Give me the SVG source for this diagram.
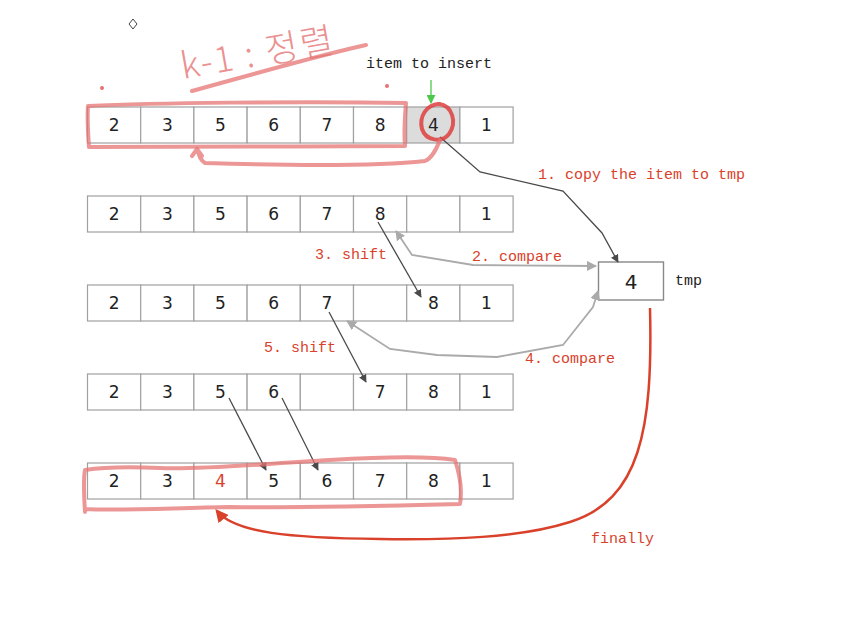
<svg xmlns="http://www.w3.org/2000/svg" width="844" height="618" viewBox="0 0 844 618">
<style>
.cell{fill:#fff;stroke:#a0a0a0;stroke-width:1.2}
.hl{fill:#dcdcdc}
.num{font-family:"DejaVu Sans","Liberation Sans",sans-serif;font-size:17px;fill:#222;text-anchor:middle}
.red{fill:#d9412b}
.mono{font-family:"Liberation Mono","DejaVu Sans Mono",monospace;font-size:15px}
.lbl{fill:#d9412b}
.dark{fill:none;stroke:#4a4a4a;stroke-width:1.3}
.light{fill:none;stroke:#aaaaaa;stroke-width:1.8}
.pen{fill:none;stroke:#e57373;stroke-opacity:0.75;stroke-width:4;stroke-linecap:round;stroke-linejoin:round}
</style>
<defs>
<marker id="ad" viewBox="0 0 10 10" refX="9" refY="5" markerWidth="8" markerHeight="8" orient="auto" markerUnits="userSpaceOnUse"><path d="M0,0 L10,5 L0,10 z" fill="#4a4a4a"/></marker>
<marker id="al" viewBox="0 0 10 10" refX="9" refY="5" markerWidth="10" markerHeight="10" orient="auto-start-reverse" markerUnits="userSpaceOnUse"><path d="M0,0 L10,5 L0,10 z" fill="#aaaaaa"/></marker>
<marker id="ar" viewBox="0 0 10 10" refX="8" refY="5" markerWidth="13" markerHeight="13" orient="auto" markerUnits="userSpaceOnUse"><path d="M0,0 L10,5 L0,10 z" fill="#d9412b"/></marker>
<marker id="ag" viewBox="0 0 10 10" refX="9" refY="5" markerWidth="9" markerHeight="9" orient="auto" markerUnits="userSpaceOnUse"><path d="M0,0 L10,5 L0,10 z" fill="#4cc94c"/></marker>
</defs>
<rect width="844" height="618" fill="#fff"/>

<g id="row1">
<rect class="cell" x="87.5" y="107" width="53.2" height="36"/><rect class="cell" x="140.7" y="107" width="53.2" height="36"/><rect class="cell" x="193.9" y="107" width="53.2" height="36"/><rect class="cell" x="247.1" y="107" width="53.2" height="36"/><rect class="cell" x="300.3" y="107" width="53.2" height="36"/><rect class="cell" x="353.5" y="107" width="53.2" height="36"/><rect class="cell hl" x="406.7" y="107" width="53.2" height="36"/><rect class="cell" x="459.9" y="107" width="53.2" height="36"/>
<text class="num" x="114.1" y="131">2</text><text class="num" x="167.3" y="131">3</text><text class="num" x="220.5" y="131">5</text><text class="num" x="273.7" y="131">6</text><text class="num" x="326.9" y="131">7</text><text class="num" x="380.1" y="131">8</text><text class="num" x="433.3" y="131">4</text><text class="num" x="486.5" y="131">1</text>
</g>
<g id="row2">
<rect class="cell" x="87.5" y="196" width="53.2" height="36"/><rect class="cell" x="140.7" y="196" width="53.2" height="36"/><rect class="cell" x="193.9" y="196" width="53.2" height="36"/><rect class="cell" x="247.1" y="196" width="53.2" height="36"/><rect class="cell" x="300.3" y="196" width="53.2" height="36"/><rect class="cell" x="353.5" y="196" width="53.2" height="36"/><rect class="cell" x="406.7" y="196" width="53.2" height="36"/><rect class="cell" x="459.9" y="196" width="53.2" height="36"/>
<text class="num" x="114.1" y="220">2</text><text class="num" x="167.3" y="220">3</text><text class="num" x="220.5" y="220">5</text><text class="num" x="273.7" y="220">6</text><text class="num" x="326.9" y="220">7</text><text class="num" x="380.1" y="220">8</text><text class="num" x="486.5" y="220">1</text>
</g>
<g id="row3">
<rect class="cell" x="87.5" y="285" width="53.2" height="36"/><rect class="cell" x="140.7" y="285" width="53.2" height="36"/><rect class="cell" x="193.9" y="285" width="53.2" height="36"/><rect class="cell" x="247.1" y="285" width="53.2" height="36"/><rect class="cell" x="300.3" y="285" width="53.2" height="36"/><rect class="cell" x="353.5" y="285" width="53.2" height="36"/><rect class="cell" x="406.7" y="285" width="53.2" height="36"/><rect class="cell" x="459.9" y="285" width="53.2" height="36"/>
<text class="num" x="114.1" y="309">2</text><text class="num" x="167.3" y="309">3</text><text class="num" x="220.5" y="309">5</text><text class="num" x="273.7" y="309">6</text><text class="num" x="326.9" y="309">7</text><text class="num" x="433.3" y="309">8</text><text class="num" x="486.5" y="309">1</text>
</g>
<g id="row4">
<rect class="cell" x="87.5" y="374" width="53.2" height="36"/><rect class="cell" x="140.7" y="374" width="53.2" height="36"/><rect class="cell" x="193.9" y="374" width="53.2" height="36"/><rect class="cell" x="247.1" y="374" width="53.2" height="36"/><rect class="cell" x="300.3" y="374" width="53.2" height="36"/><rect class="cell" x="353.5" y="374" width="53.2" height="36"/><rect class="cell" x="406.7" y="374" width="53.2" height="36"/><rect class="cell" x="459.9" y="374" width="53.2" height="36"/>
<text class="num" x="114.1" y="398">2</text><text class="num" x="167.3" y="398">3</text><text class="num" x="220.5" y="398">5</text><text class="num" x="273.7" y="398">6</text><text class="num" x="380.1" y="398">7</text><text class="num" x="433.3" y="398">8</text><text class="num" x="486.5" y="398">1</text>
</g>
<g id="row5">
<rect class="cell" x="87.5" y="463" width="53.2" height="36"/><rect class="cell" x="140.7" y="463" width="53.2" height="36"/><rect class="cell" x="193.9" y="463" width="53.2" height="36"/><rect class="cell" x="247.1" y="463" width="53.2" height="36"/><rect class="cell" x="300.3" y="463" width="53.2" height="36"/><rect class="cell" x="353.5" y="463" width="53.2" height="36"/><rect class="cell" x="406.7" y="463" width="53.2" height="36"/><rect class="cell" x="459.9" y="463" width="53.2" height="36"/>
<text class="num" x="114.1" y="487">2</text><text class="num" x="167.3" y="487">3</text><text class="num red" x="220.5" y="487">4</text><text class="num" x="273.7" y="487">5</text><text class="num" x="326.9" y="487">6</text><text class="num" x="380.1" y="487">7</text><text class="num" x="433.3" y="487">8</text><text class="num" x="486.5" y="487">1</text>
</g>
<g id="tmp">
<rect x="598.5" y="262" width="65" height="38" fill="#fff" stroke="#888" stroke-width="1.4"/>
<text class="num" x="631" y="289" style="font-size:20px">4</text>
<text class="mono" x="675" y="285" fill="#222">tmp</text>
</g>

<g id="labels" class="mono">
<text x="366" y="68" fill="#222">item to insert</text>
<text class="lbl" x="538" y="179">1. copy the item to tmp</text>
<text class="lbl" x="472" y="261">2. compare</text>
<text class="lbl" x="315" y="259">3. shift</text>
<text class="lbl" x="525" y="363">4. compare</text>
<text class="lbl" x="264" y="352">5. shift</text>
<text class="lbl" x="591" y="543">finally</text>
</g>

<g id="connectors">
<line x1="431" y1="80" x2="431" y2="103" stroke="#4cc94c" stroke-width="1.3" marker-end="url(#ag)"/>
<polyline class="dark" points="440,137 480,172 563,191 602,233 618,262" marker-end="url(#ad)"/>
<polyline class="light" points="396,231 412,255 473,265 596,266" marker-start="url(#al)" marker-end="url(#al)"/>
<line class="dark" x1="378" y1="222" x2="421" y2="297" marker-end="url(#ad)"/>
<polyline class="light" points="598,291 593,307 563,345 497,357 437,355 390,349 347,321" marker-start="url(#al)" marker-end="url(#al)"/>
<line class="dark" x1="329" y1="312" x2="366" y2="382" marker-end="url(#ad)"/>
<line class="dark" x1="229" y1="398" x2="266" y2="470" marker-end="url(#ad)"/>
<line class="dark" x1="282" y1="398" x2="318" y2="470" marker-end="url(#ad)"/>
<path d="M650,308 C653,430 640,500 570,522 C520,538 450,540 380,539 C290,538 235,533 217,511" fill="none" stroke="#d9412b" stroke-width="2.5" marker-end="url(#ar)"/>
</g>

<g id="handwriting">
<text x="0" y="0" transform="translate(183,79) rotate(-10)" font-family="'Noto Sans CJK KR','DejaVu Sans',sans-serif" font-size="36" font-weight="300" letter-spacing="2" fill="#e57373" fill-opacity="0.8">k-1 : 정렬</text>
<path class="pen" d="M192,91 C250,75 320,55 366,45"/>
<circle cx="102" cy="88" r="2" fill="#e57373"/>
<circle cx="387" cy="86" r="2" fill="#e57373"/>
<path d="M133,19 L137,24 L133,29 L129,24 Z" fill="none" stroke="#444" stroke-width="1"/>
<path class="pen" d="M88,106 C150,103 300,101 406,103 C405,115 404,135 405,146 C300,147 180,146 89,147 C88,133 87,118 88,106"/>
<path d="M440,104 C426,104 419,117 422,129 C426,141 442,143 449,134 C457,123 453,105 438,104" fill="none" stroke="#dd4040" stroke-opacity="0.85" stroke-width="4" stroke-linecap="round"/>
<path class="pen" d="M440,140 C436,150 432,158 425,161 C380,166 300,166 205,163 C200,160 199,155 197,149 M192,156 L197,149 L202,156"/>
<path class="pen" d="M85,512 C84,495 83,480 85,470 C110,466 140,467 160,468 C200,470 260,464 330,460 C380,457 430,456 455,460 C460,475 462,492 460,504 C380,506 300,508 230,507 C170,508 120,511 85,509"/>
</g>
</svg>
